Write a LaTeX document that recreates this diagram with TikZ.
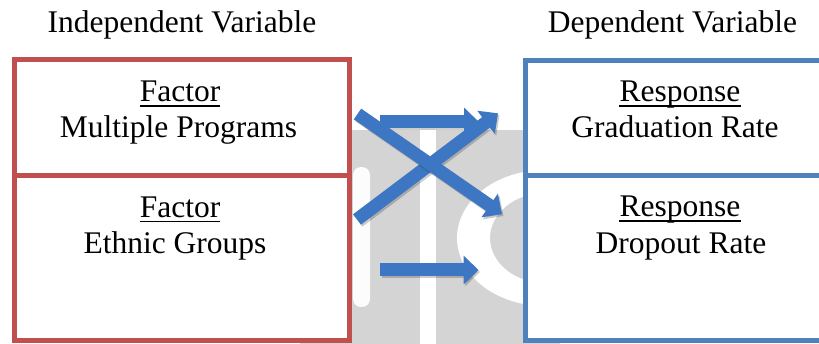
\documentclass[tikz,border=0pt]{standalone}
\usepackage{fontspec}
\setmainfont{Liberation Serif}
\usetikzlibrary{arrows.meta}
\definecolor{factorred}{RGB}{192,80,77}
\definecolor{responseblue}{RGB}{79,129,189}
\definecolor{arrowblue}{RGB}{61,118,194}
\definecolor{markgray}{RGB}{212,212,212}
\begin{document}
\begin{tikzpicture}[x=1pt,y=-1pt,
  lbl/.style={font=\fontsize{31.5}{36}\selectfont, inner sep=0pt, anchor=base},
  cell/.style={line width=5pt, fill=white, inner sep=0pt},
  flowarrow/.style={line width=13pt, arrowblue, -{Triangle[width=28pt,length=15pt]}},
  arrowshade/.style={line width=13pt, black, opacity=0.2,
    -{Triangle[width=28pt,length=15pt]}, transform canvas={shift={(1.5pt,-2pt)}}},
  ulrule/.style={line width=1.6pt, black}
]
\useasboundingbox (0,0) rectangle (819,344);
\clip (0,0) rectangle (819,344);

% faint background mark between the two columns
\fill[markgray] (300,130) rectangle (560,344);
\fill[white] (420,125) rectangle (436,344);
\fill[white!92!markgray, rounded corners=8pt] (353,167) rectangle (370,307);
\fill[white, even odd rule] (545,238) ellipse [x radius=88, y radius=68]
                            (545,238) ellipse [x radius=55, y radius=45];

% column boxes
\node[cell, draw=factorred, minimum width=335pt, minimum height=116pt] (factorA) at (181.5,118) {};
\node[cell, draw=factorred, minimum width=335pt, minimum height=165pt] (factorB) at (181.5,258.5) {};
\node[cell, draw=responseblue, minimum width=320pt, minimum height=115.5pt] (respA) at (685,118.25) {};
\node[cell, draw=responseblue, minimum width=320pt, minimum height=165pt] (respB) at (685,258.5) {};

% headings
\node[lbl] (hdrIV) at (182,33) {Independent Variable};
\node[lbl] (hdrDV) at (672.5,33) {Dependent Variable};

% cell texts
\node[lbl] (fA) at (180,102) {Factor};
\node[lbl] (fAtxt) at (178.5,138) {Multiple Programs};
\node[lbl] (fB) at (180,217.5) {Factor};
\node[lbl] (fBtxt) at (175,254) {Ethnic Groups};
\node[lbl] (rA) at (680,102) {Response};
\node[lbl] (rAtxt) at (675,138) {Graduation Rate};
\node[lbl] (rB) at (680,217) {Response};
\node[lbl] (rBtxt) at (681,254) {Dropout Rate};
\foreach \n in {fA,fB,rA,rB}
  \draw[ulrule] ([yshift=-4pt]\n.base west) -- ([yshift=-4pt]\n.base east);

% arrow end points
\coordinate (t1) at (380,122);   \coordinate (h1) at (479,122);
\coordinate (t2) at (357,219.5); \coordinate (h2) at (498,113.3);
\coordinate (t3) at (357.5,114); \coordinate (h3) at (502,214);
\coordinate (t4) at (380,270);   \coordinate (h4) at (478.5,270);

% block arrows with a soft shadow
\draw[arrowshade] (t1) -- (h1);
\draw[flowarrow]  (t1) -- (h1);
\draw[arrowshade] (t2) -- (h2);
\draw[flowarrow]  (t2) -- (h2);
\draw[arrowshade] (t3) -- (h3);
\draw[flowarrow]  (t3) -- (h3);
\draw[arrowshade] (t4) -- (h4);
\draw[flowarrow]  (t4) -- (h4);
\end{tikzpicture}
\end{document}
